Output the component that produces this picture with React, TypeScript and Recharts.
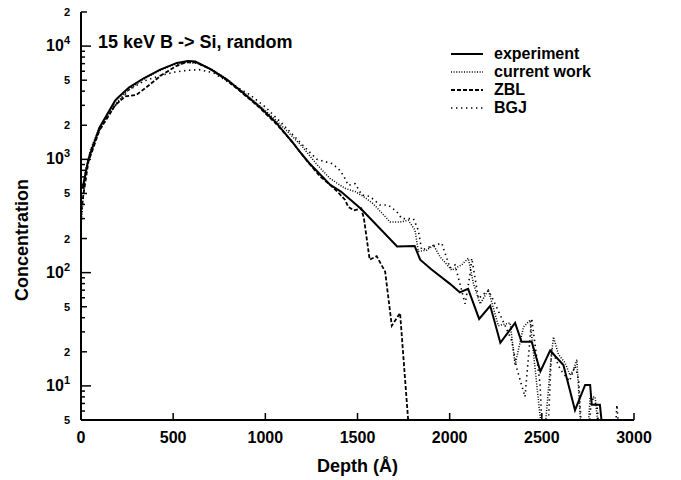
import React from 'react'
import { LineChart, Line, XAxis, YAxis, Legend } from 'recharts'

const FONT = '"Liberation Sans", Arial, Helvetica, sans-serif'

const TITLE = '15 keV B -> Si, random'
const X_TICKS = [0, 500, 1000, 1500, 2000, 2500, 3000]
const Y_TICKS = [
  5, 6, 7, 8, 9,
  10, 20, 30, 40, 50, 60, 70, 80, 90,
  100, 200, 300, 400, 500, 600, 700, 800, 900,
  1000, 2000, 3000, 4000, 5000, 6000, 7000, 8000, 9000,
  10000, 20000,
]

// [depth (Å), concentration] pairs
const experiment = [
  [8, 550], [40, 1000], [100, 1900], [185, 3300], [200, 3500], [260, 4300],
  [340, 5200], [430, 6200], [520, 7100], [580, 7400], [620, 7300], [700, 6300],
  [790, 5100], [880, 3850], [970, 2900], [1060, 2100], [1150, 1400], [1190, 1150],
  [1240, 920], [1350, 600], [1410, 520], [1520, 365], [1715, 170], [1810, 172],
  [1840, 130], [1900, 107], [2000, 80], [2055, 67], [2100, 72], [2160, 39],
  [2220, 51], [2275, 24], [2355, 36], [2390, 24.5], [2445, 24.5], [2492, 13.4],
  [2545, 20.5], [2617, 15.3], [2680, 6.1], [2735, 10.2], [2762, 10.2], [2771, 6.8],
  [2815, 6.8], [2830, 4],
]

const currentWork = [
  [0, 250], [20, 700], [50, 1200], [100, 1900], [180, 3000], [250, 4000],
  [330, 5000], [420, 6000], [500, 6800], [570, 7200], [640, 7000], [720, 6100],
  [800, 5000], [900, 3700], [1000, 2700], [1100, 1900], [1200, 1300], [1280, 900],
  [1350, 680], [1432, 555], [1487, 520], [1532, 470], [1586, 405], [1677, 280],
  [1731, 280], [1776, 290], [1812, 237], [1830, 154], [1876, 158], [1912, 175],
  [1948, 138], [2011, 105], [2065, 117], [2101, 134], [2129, 80], [2165, 53],
  [2210, 70], [2264, 34], [2328, 36], [2355, 15.3], [2400, 33], [2436, 38],
  [2490, 5.5], [2510, 3], [2548, 16], [2563, 27], [2590, 19], [2626, 16],
  [2653, 12.4], [2671, 13.8], [2690, 17], [2717, 3], [2745, 3], [2762, 8],
  [2789, 8], [2816, 3],
]

const zbl = [
  [0, 350], [40, 950], [100, 1800], [185, 3000], [240, 3600], [300, 3700],
  [360, 4400], [440, 5600], [520, 6700], [570, 7200], [620, 7200], [700, 6300],
  [790, 5000], [880, 3800], [970, 2850], [1060, 2050], [1150, 1400], [1230, 950],
  [1300, 700], [1350, 600], [1400, 500], [1432, 440], [1450, 380], [1480, 355],
  [1520, 369], [1535, 300], [1566, 130], [1604, 140], [1650, 102], [1686, 34],
  [1731, 44], [1785, 3],
]

const bgj = [
  [0, 300], [25, 800], [60, 1300], [100, 1800], [180, 2900], [260, 4100],
  [340, 4900], [430, 5500], [510, 5900], [573, 6100], [640, 6200], [720, 5800],
  [800, 4800], [918, 3700], [1000, 2900], [1100, 2000], [1200, 1350], [1280, 1000],
  [1360, 920], [1396, 830], [1423, 725], [1450, 590], [1487, 610], [1523, 485],
  [1568, 470], [1622, 395], [1667, 395], [1713, 345], [1740, 300], [1803, 300],
  [1830, 237], [1848, 158], [1894, 170], [1957, 182], [2002, 110], [2029, 117],
  [2084, 53], [2111, 98], [2120, 134], [2156, 59], [2210, 70], [2237, 57],
  [2301, 34], [2337, 25], [2364, 14.3], [2409, 8], [2445, 39.5], [2490, 10.5],
  [2505, 3], [2530, 3], [2553, 21], [2600, 14], [2650, 11], [2680, 15],
  [2700, 11.3], [2720, 3], [2750, 3], [2770, 8], [2800, 6.5], [2816, 3],
  [2895, 3], [2907, 6.8], [2925, 3],
]

const toPoints = (rows: number[][]) => rows.map(([x, y]) => ({ x, y }))

const SERIES = [
  { name: 'experiment', data: experiment, width: 2, dash: undefined },
  { name: 'current work', data: currentWork, width: 1.5, dash: '1 1.6' },
  { name: 'ZBL', data: zbl, width: 1.8, dash: '4 2' },
  { name: 'BGJ', data: bgj, width: 1.6, dash: '1.4 3.6' },
]

function BottomTick({ x, y, payload }: any) {
  return (
    <g>
      <line x1={x} y1={y} x2={x} y2={y - 7} stroke="#000" strokeWidth={1.5} />
      <text x={x} y={y + 23} textAnchor="middle" fontFamily={FONT} fontWeight="bold" fontSize={16} fill="#000">
        {payload.value}
      </text>
    </g>
  )
}

function TopTick({ x, y }: any) {
  return <line x1={x} y1={y} x2={x} y2={y + 7} stroke="#000" strokeWidth={1.5} />
}

function LeftTick({ x, y, payload }: any) {
  const v = payload.value
  const p = Math.floor(Math.log10(v) + 1e-9)
  const m = Math.round(v / Math.pow(10, p))
  const len = m === 1 ? 10 : m === 2 || m === 5 ? 6 : 4
  let label = null
  if (m === 1) {
    label = (
      <text x={x - 11} y={y + 5} textAnchor="end" fontFamily={FONT} fontWeight="bold" fontSize={16} fill="#000">
        <tspan>10</tspan>
        <tspan dy={-7} fontSize={11}>{p}</tspan>
      </text>
    )
  } else if (m === 2 || m === 5) {
    label = (
      <text x={x - 11} y={y + 4} textAnchor="end" fontFamily={FONT} fontWeight="bold" fontSize={11} fill="#000">
        {m}
      </text>
    )
  }
  return (
    <g>
      <line x1={x} y1={y} x2={x + len} y2={y} stroke="#000" strokeWidth={1.5} />
      {label}
    </g>
  )
}

const renderLegend = () => (
  <div style={{ fontFamily: FONT, fontWeight: 'bold', fontSize: 16, color: '#000' }}>
    {SERIES.map((s) => (
      <div key={s.name} style={{ display: 'flex', alignItems: 'center', height: 18 }}>
        <svg width={32} height={6} style={{ marginRight: 11 }}>
          <line x1={0} y1={3} x2={32} y2={3} stroke="#000" strokeWidth={s.width} strokeDasharray={s.dash} />
        </svg>
        <span style={{ lineHeight: '18px' }}>{s.name}</span>
      </div>
    ))}
  </div>
)

export default function App() {
  return (
    <div style={{ position: 'absolute', left: 0, top: 0, width: 681, height: 480, background: '#fff' }}>
      <LineChart width={681} height={480} margin={{ top: 12, right: 47, bottom: 0, left: 0 }}>
        <XAxis
          xAxisId="b"
          type="number"
          dataKey="x"
          domain={[0, 3000]}
          ticks={X_TICKS}
          interval={0}
          height={60}
          tickSize={0}
          tickMargin={0}
          tick={<BottomTick />}
          axisLine={{ stroke: '#000', strokeWidth: 2 }}
          label={{
            content: ({ viewBox }: any) => (
              <text x={viewBox.x + viewBox.width / 2} y={viewBox.y + 52} textAnchor="middle" fontFamily={FONT} fontWeight="bold" fontSize={18} fill="#000">
                Depth (Å)
              </text>
            ),
          }}
        />
        <XAxis
          xAxisId="t"
          orientation="top"
          type="number"
          dataKey="x"
          domain={[0, 3000]}
          ticks={X_TICKS}
          interval={0}
          height={0}
          tickSize={0}
          tickMargin={0}
          tick={<TopTick />}
          axisLine={{ stroke: '#000', strokeWidth: 2 }}
        />
        <YAxis
          yAxisId="l"
          type="number"
          scale="log"
          domain={[5, 20000]}
          allowDataOverflow
          ticks={Y_TICKS}
          interval={0}
          width={81}
          tickSize={0}
          tickMargin={0}
          tick={<LeftTick />}
          axisLine={{ stroke: '#000', strokeWidth: 2 }}
          label={{
            content: ({ viewBox }: any) => {
              const cx = viewBox.x + 22
              const cy = viewBox.y + viewBox.height / 2 + 24
              return (
                <text x={cx} y={cy} transform={`rotate(-90 ${cx} ${cy})`} textAnchor="middle" dominantBaseline="central" fontFamily={FONT} fontWeight="bold" fontSize={18} fill="#000">
                  Concentration
                </text>
              )
            },
          }}
        />
        <YAxis
          yAxisId="r"
          orientation="right"
          type="number"
          scale="log"
          domain={[5, 20000]}
          allowDataOverflow
          width={0}
          tick={false}
          tickLine={false}
          axisLine={{ stroke: '#000', strokeWidth: 2 }}
        />
        <Legend
          layout="vertical"
          align="center"
          verticalAlign="middle"
          wrapperStyle={{ left: 451, top: 45, width: 220 }}
          content={renderLegend}
        />
        {SERIES.map((s) => (
          <Line
            key={s.name}
            name={s.name}
            xAxisId="b"
            yAxisId="l"
            data={toPoints(s.data)}
            dataKey="y"
            type="linear"
            stroke="#000"
            strokeWidth={s.width}
            strokeDasharray={s.dash}
            dot={false}
            activeDot={false}
            isAnimationActive={false}
          />
        ))}
      </LineChart>
      <div
        style={{
          position: 'absolute',
          left: 98,
          top: 32,
          fontFamily: FONT,
          fontWeight: 'bold',
          fontSize: 18,
          lineHeight: '20px',
          color: '#000',
          whiteSpace: 'nowrap',
        }}
      >
        {TITLE}
      </div>
    </div>
  )
}
